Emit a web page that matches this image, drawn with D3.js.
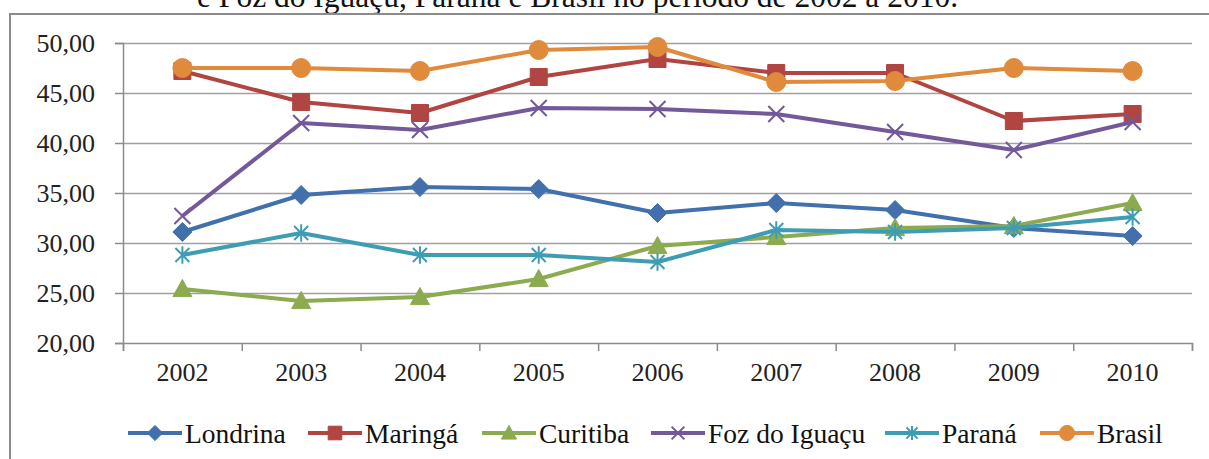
<!DOCTYPE html>
<html>
<head>
<meta charset="utf-8">
<script src="https://cdn.jsdelivr.net/npm/d3@7"></script>
<style>
  body { margin: 0; background: #fff; }
</style>
</head>
<body>
<div id="chart"></div>
<script>
// Data
const years = ["2002", "2003", "2004", "2005", "2006", "2007", "2008", "2009", "2010"];
const londrina = [31.1, 34.8, 35.6, 35.4, 33.0, 34.0, 33.3, 31.5, 30.7];
const maringa  = [47.2, 44.1, 43.0, 46.6, 48.4, 47.0, 47.0, 42.2, 42.9];
const curitiba = [25.4, 24.2, 24.6, 26.4, 29.7, 30.6, 31.5, 31.7, 34.0];
const foz      = [32.7, 42.0, 41.3, 43.5, 43.4, 42.9, 41.1, 39.3, 42.1];
const parana   = [28.8, 31.0, 28.8, 28.8, 28.1, 31.3, 31.1, 31.5, 32.6];
const brasil   = [47.5, 47.5, 47.2, 49.3, 49.6, 46.1, 46.2, 47.5, 47.2];
const yTicks = [20, 25, 30, 35, 40, 45, 50];

const series = [
  { name: "Londrina", values: londrina, color: "#4170ad", marker: "diamond" },
  { name: "Maringá", values: maringa, color: "#b04542", marker: "square" },
  { name: "Curitiba", values: curitiba, color: "#8caa4e", marker: "triangle" },
  { name: "Foz do Iguaçu", values: foz, color: "#73589a", marker: "x" },
  { name: "Paraná", values: parana, color: "#3f9db3", marker: "star" },
  { name: "Brasil", values: brasil, color: "#e08a3c", marker: "circle" }
];

const W = 1209, H = 459;
const plot = { left: 123, right: 1192, top: 43, bottom: 343 };
const serif = "'Liberation Serif', 'DejaVu Serif', serif";

const svg = d3.select("#chart").append("svg")
  .attr("width", W)
  .attr("height", H);

// caption cut at the top of the picture
svg.append("text")
  .attr("x", 197)
  .attr("y", 7)
  .style("font-family", serif)
  .style("font-size", "31.5px")
  .attr("fill", "#111")
  .text("e Foz do Iguaçu, Paraná e Brasil no período de 2002 a 2010.");

// chart frame
svg.append("rect")
  .attr("x", 10).attr("y", 14)
  .attr("width", W + 10).attr("height", H + 10)
  .attr("fill", "#fff")
  .attr("stroke", "#8c8c8c")
  .attr("stroke-width", 2);

const x = d3.scaleBand()
  .domain(years)
  .range([plot.left, plot.right]);

const xEdges = d3.scaleLinear()
  .domain([0, years.length])
  .range([plot.left, plot.right]);

const y = d3.scaleLinear()
  .domain([20, 50])
  .range([plot.bottom, plot.top]);

// gridlines
svg.append("g")
  .attr("transform", `translate(${plot.left},0)`)
  .call(d3.axisLeft(y).tickValues(yTicks.slice(1)).tickSize(-(plot.right - plot.left)).tickFormat(""))
  .call(g => g.select(".domain").remove())
  .call(g => g.selectAll("line").attr("stroke", "#a0a0a0").attr("stroke-width", 1.5));

// y axis
svg.append("g")
  .attr("transform", `translate(${plot.left},0)`)
  .call(d3.axisLeft(y).tickValues(yTicks).tickSize(8).tickPadding(20)
    .tickFormat(d => d3.format(".2f")(d).replace(".", ",")))
  .call(g => g.select(".domain").attr("stroke", "#8c8c8c").attr("stroke-width", 1.5))
  .call(g => g.selectAll("line").attr("stroke", "#8c8c8c").attr("stroke-width", 1.5))
  .call(g => g.selectAll("text").attr("fill", "#222")
    .style("font-family", serif).style("font-size", "26px"));

// x axis: boundary ticks
svg.append("g")
  .attr("transform", `translate(0,${plot.bottom})`)
  .call(d3.axisBottom(xEdges).tickValues(d3.range(years.length + 1)).tickSize(8).tickFormat(""))
  .call(g => g.select(".domain").attr("stroke", "#8c8c8c").attr("stroke-width", 1.5))
  .call(g => g.selectAll("line").attr("stroke", "#8c8c8c").attr("stroke-width", 1.5));

// x axis: labels centred in bands
svg.append("g")
  .attr("transform", `translate(0,${plot.bottom})`)
  .call(d3.axisBottom(x).tickSize(0).tickPadding(20))
  .call(g => g.select(".domain").remove())
  .call(g => g.selectAll("text").attr("fill", "#222")
    .style("font-family", serif).style("font-size", "26px"));

function markerPath(type, s) {
  const h = s / 2;
  switch (type) {
    case "diamond": return `M0,${-h}L${h},0L0,${h}L${-h},0Z`;
    case "square": return `M${-h},${-h}H${h}V${h}H${-h}Z`;
    case "triangle": return `M0,${-h}L${h},${h * 0.8}L${-h},${h * 0.8}Z`;
    case "circle": return d3.arc()({ innerRadius: 0, outerRadius: h, startAngle: 0, endAngle: 2 * Math.PI });
    case "x": return `M${-h},${-h}L${h},${h}M${-h},${h}L${h},${-h}`;
    case "star": return `M${-h},${-h}L${h},${h}M${-h},${h}L${h},${-h}M0,${-h * 1.25}V${h * 1.25}`;
  }
}
const markerSize = { diamond: 19, square: 17, triangle: 19, circle: 19, x: 16, star: 14 };
const stroked = t => t === "x" || t === "star";

const line = d3.line()
  .x((d, i) => x(years[i]) + x.bandwidth() / 2)
  .y(d => y(d));

series.forEach(s => {
  const g = svg.append("g");
  g.append("path")
    .attr("d", line(s.values))
    .attr("fill", "none")
    .attr("stroke", s.color)
    .attr("stroke-width", 4)
    .attr("stroke-linejoin", "round");
  g.selectAll("path.mark")
    .data(s.values)
    .join("path")
    .attr("class", "mark")
    .attr("transform", (d, i) => `translate(${x(years[i]) + x.bandwidth() / 2},${y(d)})`)
    .attr("d", markerPath(s.marker, markerSize[s.marker]))
    .attr("fill", stroked(s.marker) ? "none" : s.color)
    .attr("stroke", s.color)
    .attr("stroke-width", stroked(s.marker) ? 2 : 1);
});

// legend
const legendX = [128, 308, 482, 651, 885, 1040];
const legend = svg.append("g");
series.forEach((s, i) => {
  const g = legend.append("g").attr("transform", `translate(${legendX[i]},433)`);
  g.append("line")
    .attr("x1", 0).attr("x2", 54)
    .attr("stroke", s.color)
    .attr("stroke-width", 4);
  g.append("path")
    .attr("transform", "translate(27,0)")
    .attr("d", markerPath(s.marker, markerSize[s.marker] * 0.8))
    .attr("fill", stroked(s.marker) ? "none" : s.color)
    .attr("stroke", s.color)
    .attr("stroke-width", stroked(s.marker) ? 2 : 1);
  g.append("text")
    .attr("x", 57)
    .attr("y", 10)
    .attr("fill", "#111")
    .style("font-family", serif)
    .style("font-size", "27.5px")
    .text(s.name);
});
</script>
</body>
</html>
